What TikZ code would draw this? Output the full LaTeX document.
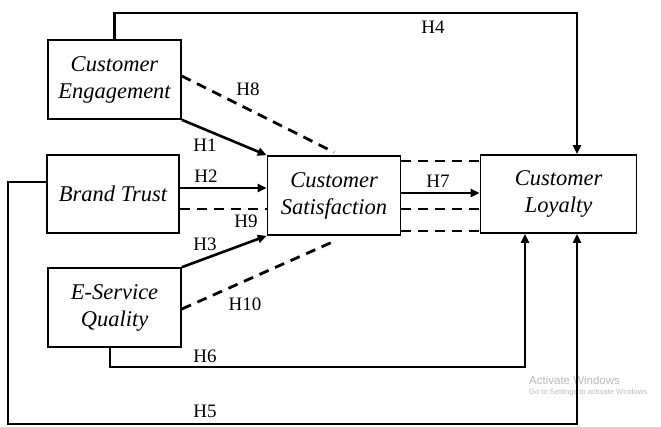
\documentclass[tikz,border=0pt]{standalone}
\usepackage{fontspec}
\setmainfont{Liberation Serif}
\newfontfamily\wmfont{Liberation Sans}
\usetikzlibrary{arrows.meta,calc}
\begin{document}
\begin{tikzpicture}[x=1pt,y=-1pt,
  var/.style={draw,line width=1.6pt,inner sep=0pt,align=center,
    font=\fontsize{22.5}{27}\selectfont\itshape},
  arr/.style={line width=2.6pt,-{Triangle[length=9pt,width=8pt]}},
  dashlink/.style={line width=2.8pt,dash pattern=on 10pt off 7pt},
  hyp/.style={font=\fontsize{19}{21}\selectfont,inner sep=0pt},
  wm/.style={anchor=west,inner sep=0pt,text=black!27}]
\useasboundingbox (0,0) rectangle (661,426);

% faint system notice in the lower right
\node[wm,font=\wmfont\fontsize{11.5}{12}\selectfont] (wm1) at (529,380) {Activate Windows};
\node[wm,font=\wmfont\fontsize{7.6}{9}\selectfont] (wm2) at (529,393) {Go to Settings to activate Windows};

% constructs
\node[var,minimum width=133pt,minimum height=79pt] (ce)  at (114.5,79.5) {Customer\\Engagement};
\node[var,minimum width=132pt,minimum height=78pt] (bt)  at (113,194)   {Brand Trust};
\node[var,minimum width=133pt,minimum height=79pt] (esq) at (114.5,307.5) {E-Service\\Quality};
\node[var,minimum width=133pt,minimum height=79pt] (cs)  at (334,195.5) {Customer\\Satisfaction};
\node[var,minimum width=156pt,minimum height=78pt] (cl)  at (558.5,194) {Customer\\Loyalty};

% attachment points
\coordinate (bt2) at ([yshift=6pt]bt.east);
\coordinate (bt9) at ([yshift=-15pt]bt.east);
\coordinate (bt5) at ([yshift=12pt]bt.west);
\coordinate (ce8) at ([yshift=3.5pt]ce.east);
\coordinate (cs8) at ([yshift=3pt]cs.north);
\coordinate (esq10) at ([yshift=-1.5pt]esq.east);
\coordinate (cs10) at ([shift={(-1pt,-6pt)}]cs.south);
\coordinate (esq6) at ([xshift=-4.5pt]esq.south);
\coordinate (csa) at ([yshift=34.5pt]cs.east);
\coordinate (cs7) at ([yshift=2.5pt]cs.east);
\coordinate (csb) at ([yshift=-13.5pt]cs.east);
\coordinate (csc) at ([yshift=-35.5pt]cs.east);

% routing levels for the outer paths
\coordinate (top)  at (0,13);
\coordinate (low6) at (0,367);
\coordinate (low5) at (0,424);
\coordinate (left5) at (8,0);
\coordinate (clin4) at ([xshift=18.5pt]cl.north);
\coordinate (clin6) at ([xshift=-33.5pt]cl.south);
\coordinate (clin5) at ([xshift=18.5pt]cl.south);

% direct effects on satisfaction
\draw[arr] (ce.south east) -- (cs.north west);
\draw[arr] (bt2) -- (cs.west |- bt2);
\draw[arr] (esq.north east) -- (cs.south west);

% mediated (dashed) paths
\draw[dashlink] (ce8) -- (cs8);
\draw[dashlink] (bt9) -- (cs.west |- bt9);
\draw[dashlink] (esq10) -- (cs10);
\draw[dashlink] (csa) -- (cl.west |- csa);
\draw[dashlink] (csb) -- (cl.west |- csb);
\draw[dashlink] (csc) -- (cl.west |- csc);

% satisfaction to loyalty
\draw[arr] (cs7) -- (cl.west |- cs7);

% direct effects on loyalty
\draw[arr] (ce.north) -- (ce.north |- top) -| (clin4);
\draw[arr] (esq6) -- (esq6 |- low6) -| (clin6);
\draw[arr] (bt5) -- (left5 |- bt5) -- (left5 |- low5) -| (clin5);

% hypothesis labels
\node[hyp] (h1)  at (205,145) {H1};
\node[hyp] (h2)  at (206,176) {H2};
\node[hyp] (h3)  at (205,244) {H3};
\node[hyp] (h4)  at (433,27)  {H4};
\node[hyp] (h5)  at (205,411) {H5};
\node[hyp] (h6)  at (205,356) {H6};
\node[hyp] (h7)  at (438,181) {H7};
\node[hyp] (h8)  at (248,89)  {H8};
\node[hyp] (h9)  at (246,221) {H9};
\node[hyp] (h10) at (245,304) {H10};
\end{tikzpicture}
\end{document}
